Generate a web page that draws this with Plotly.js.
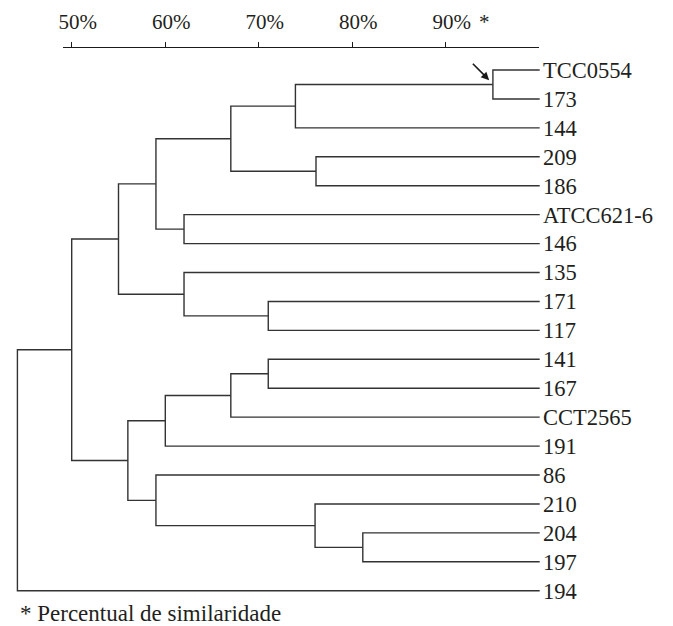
<!DOCTYPE html>
<html>
<head>
<meta charset="utf-8">
<script src="https://cdn.plot.ly/plotly-3.0.1.min.js"></script>
<style>html,body{margin:0;padding:0;background:#fff;}#chart{width:673px;height:626px;}</style>
</head>
<body>
<div id="chart"></div>
<script>
// Leaves (top to bottom)
const leafLabels = ['TCC0554','173','144','209','186','ATCC621-6','146','135','171','117','141','167','CCT2565','191','86','210','204','197','194'];
// Leaf similarity (tips of the tree)
const leafSimilarity = 100;
// Merges: node ids 0..18 are leaves, merge k creates node 19+k
const mergeLeft  = [0, 19, 3, 20, 5, 22, 8, 7, 24, 10, 28, 29, 16, 15, 14, 30, 27, 35];
const mergeRight = [1,  2, 4, 21, 6, 23, 9, 25, 26, 11, 12, 13, 17, 31, 32, 33, 34, 18];
const mergeSimilarity = [95.0, 73.9, 76.1, 67.0, 62.0, 59.0, 71.0, 62.0, 55.0, 71.0, 67.0, 60.0, 81.1, 76.0, 59.0, 56.0, 50.0, 44.2];
// Axis ticks
const tickValues = [50, 60, 70, 80, 90];
const tickLabels = ['50%', '60%', '70%', '80%', '90%'];

const nLeaves = leafLabels.length;
const nodeX = [], nodeY = [];
for (let i = 0; i < nLeaves; i++) { nodeX.push(leafSimilarity); nodeY.push(i); }
const lx = [], ly = [];
for (let k = 0; k < mergeLeft.length; k++) {
  const a = mergeLeft[k], b = mergeRight[k], s = mergeSimilarity[k];
  lx.push(nodeX[a], s, s, nodeX[b], null);
  ly.push(nodeY[a], nodeY[a], nodeY[b], nodeY[b], null);
  nodeX.push(s);
  nodeY.push((nodeY[a] + nodeY[b]) / 2);
}

const serif = "'Liberation Serif', 'Times New Roman', serif";
const txt = '#231f20';

const traces = [
  {x: lx, y: ly, mode: 'lines', type: 'scatter', line: {color: '#333333', width: 1.4},
   hoverinfo: 'skip', showlegend: false, xaxis: 'x', yaxis: 'y'},
  {x: [], y: [], mode: 'lines', type: 'scatter', xaxis: 'x2', yaxis: 'y', showlegend: false, hoverinfo: 'skip'}
];

const layout = {
  width: 673, height: 626,
  margin: {l: 8, r: 133, t: 48, b: 26},
  paper_bgcolor: '#fff', plot_bgcolor: 'rgba(0,0,0,0)',
  showlegend: false,
  xaxis: {domain: [0, 1], range: [43.194, 100.032], visible: false, fixedrange: true},
  xaxis2: {domain: [0.1028, 0.9987], range: [49.04, 100], anchor: 'y', side: 'top',
    showline: true, linecolor: '#1a1a1a', linewidth: 1.4, showgrid: false, zeroline: false,
    ticks: 'outside', ticklen: 5, tickwidth: 1.3, tickcolor: '#1a1a1a',
    tickvals: tickValues, ticktext: tickLabels, ticklabelshift: 6, ticklabelstandoff: 4,
    tickfont: {family: serif, size: 21, color: txt}},
  yaxis: {domain: [0, 1], range: [18.320, -0.7605], anchor: 'x', side: 'right',
    showline: false, showgrid: false, zeroline: false, ticks: '', ticklabelstandoff: 2,
    tickvals: leafLabels.map((_, i) => i), ticktext: leafLabels,
    tickfont: {family: serif, size: 22.5, color: txt}},
  annotations: [
    {text: '*', xref: 'x', yref: 'paper', x: 94.05, y: 1.0476, xanchor: 'center', yanchor: 'middle',
     showarrow: false, font: {family: serif, size: 21, color: txt}},
    {text: '* Percentual de similaridade', xref: 'paper', yref: 'paper', x: 0.0188, y: -0.0236,
     xanchor: 'left', yanchor: 'middle', showarrow: false, font: {family: serif, size: 23, color: txt}},
    {text: '', xref: 'x', yref: 'y', x: 94.6, y: 0.35, axref: 'x', ayref: 'y', ax: 92.7, ay: -0.27,
     showarrow: true, arrowhead: 2, arrowsize: 1, arrowwidth: 1.6, arrowcolor: '#1a1a1a', standoff: 0}
  ]
};

Plotly.newPlot('chart', traces, layout, {displayModeBar: false, staticPlot: true});
</script>
</body>
</html>
